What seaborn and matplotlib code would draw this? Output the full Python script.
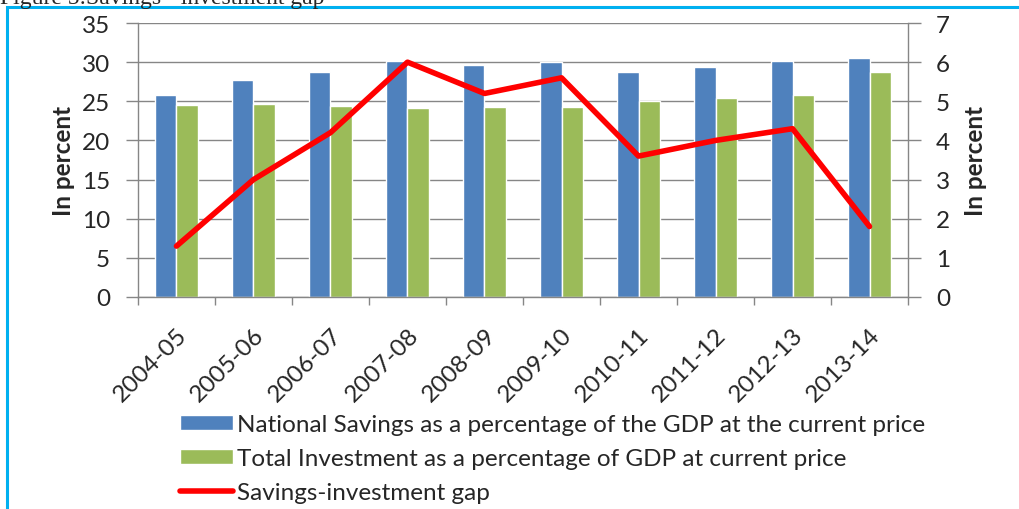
import numpy as np
import pandas as pd
import seaborn as sns
from matplotlib import pyplot as plt
from matplotlib.patches import Patch, Rectangle
from matplotlib.lines import Line2D

#--------------------------Data--------------------------------------------
years = ['2004-05', '2005-06', '2006-07', '2007-08', '2008-09',
         '2009-10', '2010-11', '2011-12', '2012-13', '2013-14']

#national savings, % of GDP (left axis)
savings = [25.8, 27.7, 28.7, 30.2, 29.6, 30.0, 28.7, 29.4, 30.1, 30.5]

#total investment, % of GDP (left axis)
investment = [24.5, 24.6, 24.4, 24.2, 24.3, 24.3, 25.1, 25.4, 25.8, 28.7]

#savings-investment gap (right axis)
gap = [1.3, 3.0, 4.2, 6.0, 5.2, 5.6, 3.6, 4.0, 4.3, 1.8]

series_names = ['National Savings as a percentage of the GDP at the current price',
                'Total Investment as a percentage of GDP at current price']
gap_name = 'Savings-investment gap'

left_ticks = [0, 5, 10, 15, 20, 25, 30, 35]
right_ticks = [0, 1, 2, 3, 4, 5, 6, 7]

#--------------------------Style--------------------------------------------
blue = '#4F81BD'
green = '#9BBB59'
red = '#FF0000'
axis_grey = '#868686'

sns.set_theme(style='white')
plt.rcParams['font.family'] = ['Lato', 'DejaVu Sans']
fs = 17.5

#long form frame for the bars
bars_df = pd.DataFrame({
    'year': years * 2,
    'series': [series_names[0]] * len(years) + [series_names[1]] * len(years),
    'value': savings + investment,
})

#--------------------------Plot--------------------------------------------
fig = plt.figure(figsize=(10.19, 5.10), dpi=100)
ax = fig.add_axes([0.1354, 0.4157, 0.7557, 0.5372])

sns.barplot(data=bars_df, x='year', y='value', hue='series',
            palette=[blue, green], saturation=1, width=0.57,
            ax=ax, legend=False)

ax.set_ylim(0, 35)
ax.set_yticks(left_ticks)
ax.set_axisbelow(True)
ax.yaxis.grid(True, color=axis_grey, linewidth=1)
ax.set_xlabel('')
ax.set_ylabel('In percent', fontsize=fs, weight='bold', va='center')
ax.yaxis.set_label_coords(-0.097, 0.5)

#tick marks at category boundaries, labels at centres
ax.set_xticks(np.arange(-0.5, len(years), 1), minor=True)
ax.tick_params(axis='x', which='major', length=0, pad=19, labelsize=fs)
ax.tick_params(axis='x', which='minor', length=6, width=1, color=axis_grey,
               direction='out', bottom=True)
ax.tick_params(axis='y', length=9, width=1, color=axis_grey, direction='out',
               pad=11, labelsize=fs, left=True)
plt.setp(ax.get_xticklabels(), rotation=45, ha='right', rotation_mode='anchor')

for side in ['top', 'right']:
    ax.spines[side].set_visible(False)
for side in ['left', 'bottom']:
    ax.spines[side].set_color(axis_grey)
    ax.spines[side].set_linewidth(1)

#gap line on the secondary axis
ax2 = ax.twinx()
sns.pointplot(x=years, y=gap, ax=ax2, color=red, marker='', linewidth=4,
              errorbar=None, solid_capstyle='round', solid_joinstyle='round')
ax2.set_ylim(0, 7)
ax2.set_yticks(right_ticks)
ax2.set_xlim(-0.5, len(years) - 0.5)
ax2.set_ylabel('In percent', fontsize=fs, weight='bold', va='center')
ax2.yaxis.set_label_coords(1.087, 0.5)
ax2.tick_params(axis='y', length=9, width=1, color=axis_grey, direction='out',
                pad=11, labelsize=fs, right=True)
for side in ['top', 'left', 'bottom']:
    ax2.spines[side].set_visible(False)
ax2.spines['right'].set_color(axis_grey)
ax2.spines['right'].set_linewidth(1)

#legend below the chart
handles = [Patch(facecolor=blue), Patch(facecolor=green),
           Line2D([], [], color=red, linewidth=4, solid_capstyle='round')]
fig.legend(handles, series_names + [gap_name], loc='upper left',
           bbox_to_anchor=(0.1766, 0.186), frameon=False, fontsize=fs,
           handlelength=2.18, handleheight=0.54, handletextpad=0.16,
           labelspacing=0.53, borderaxespad=0, borderpad=0)

#cut-off caption and frame of the source document
fig.text(0.0, 1 - 4 / 510, 'Figure 5:Savings - investment gap',
         family='Liberation Serif', fontsize=17, va='baseline', ha='left')
fig.patches.append(Rectangle((7 / 1019, -0.1), 1.2, 0.984 + 0.1,
                             transform=fig.transFigure, fill=False,
                             edgecolor='#00B0F0', linewidth=2.2))

fig.savefig('out.png', dpi=100)
